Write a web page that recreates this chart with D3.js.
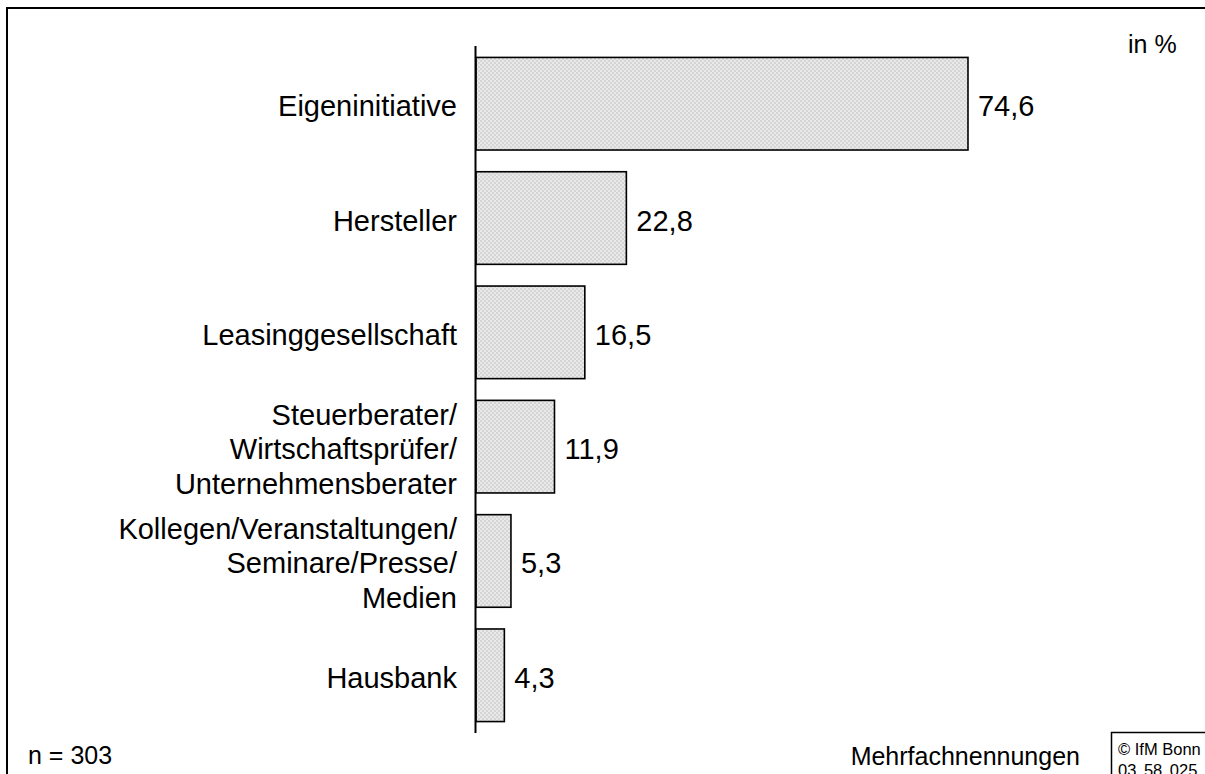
<!DOCTYPE html>
<html>
<head>
<meta charset="utf-8">
<script src="https://cdn.jsdelivr.net/npm/d3@7"></script>
<style>
  body { margin: 0; background: #fff; }
  text { font-family: Arial, "Liberation Sans", sans-serif; fill: #000; }
</style>
</head>
<body>
<div id="chart"></div>
<script>
// Data
const categories = [
    ["Eigeninitiative"],
    ["Hersteller"],
    ["Leasinggesellschaft"],
    ["Steuerberater/", "Wirtschaftsprüfer/", "Unternehmensberater"],
    ["Kollegen/Veranstaltungen/", "Seminare/Presse/", "Medien"],
    ["Hausbank"]
];
const values = [74.6, 22.8, 16.5, 11.9, 5.3, 4.3];
const valueLabels = ["74,6", "22,8", "16,5", "11,9", "5,3", "4,3"];

const width = 1205, height = 774;

const svg = d3.select("#chart")
              .append("svg")
              .attr("width", width)
              .attr("height", height);

// Checkered grey fill for the bars
const defs = svg.append("defs");
const pat = defs.append("pattern")
                .attr("id", "dots")
                .attr("width", 4)
                .attr("height", 4)
                .attr("patternUnits", "userSpaceOnUse");
pat.append("rect").attr("width", 4).attr("height", 4).attr("fill", "#e9e9e9");
pat.append("rect").attr("width", 2).attr("height", 2).attr("fill", "#d5d5d5");
pat.append("rect").attr("x", 2).attr("y", 2).attr("width", 2).attr("height", 2).attr("fill", "#d5d5d5");

// Frame
svg.append("rect")
   .attr("x", 7)
   .attr("y", 8)
   .attr("width", 1400)
   .attr("height", 1000)
   .attr("fill", "none")
   .attr("stroke", "#000")
   .attr("stroke-width", 2);

// Scales
const x = d3.scaleLinear()
            .domain([0, 100])
            .range([476, 476 + 659.5]);

const y = d3.scaleBand()
            .domain(d3.range(values.length))
            .range([46, 733])
            .paddingInner(0.19)
            .paddingOuter(0.1);

// Bars
svg.append("g")
   .selectAll("rect")
   .data(values)
   .enter()
   .append("rect")
   .attr("x", x(0))
   .attr("y", (d, i) => y(i))
   .attr("width", d => x(d) - x(0))
   .attr("height", y.bandwidth())
   .attr("fill", "url(#dots)")
   .attr("stroke", "#000")
   .attr("stroke-width", 1.6);

// Axis line
svg.append("line")
   .attr("x1", 475.5)
   .attr("x2", 475.5)
   .attr("y1", 46)
   .attr("y2", 733)
   .attr("stroke", "#000")
   .attr("stroke-width", 2);

// Category labels
const lineH = 34.5;
const labels = svg.append("g")
                  .selectAll("text")
                  .data(categories)
                  .enter()
                  .append("text")
                  .attr("text-anchor", "end")
                  .style("font-size", "29px");
labels.each(function(lines, i) {
    const cy = y(i) + y.bandwidth() / 2 + 12.5;
    const t = d3.select(this);
    lines.forEach((ln, j) => {
        t.append("tspan")
         .attr("x", 457)
         .attr("y", cy + (j - (lines.length - 1) / 2) * lineH)
         .text(ln);
    });
});

// Value labels
svg.append("g")
   .selectAll("text")
   .data(values)
   .enter()
   .append("text")
   .attr("x", d => x(d) + 10)
   .attr("y", (d, i) => y(i) + y.bandwidth() / 2 + 12.5)
   .style("font-size", "29px")
   .text((d, i) => valueLabels[i]);

// Unit
svg.append("text")
   .attr("x", 1128)
   .attr("y", 53)
   .style("font-size", "25px")
   .text("in %");

// Footer
svg.append("text")
   .attr("x", 28)
   .attr("y", 764)
   .style("font-size", "25px")
   .text("n = 303");

svg.append("text")
   .attr("x", 1080)
   .attr("y", 765)
   .attr("text-anchor", "end")
   .style("font-size", "25px")
   .text("Mehrfachnennungen");

// Copyright box
svg.append("rect")
   .attr("x", 1111.5)
   .attr("y", 732.5)
   .attr("width", 200)
   .attr("height", 100)
   .attr("fill", "#fff")
   .attr("stroke", "#000")
   .attr("stroke-width", 1.5);

svg.append("text")
   .attr("x", 1118)
   .attr("y", 755)
   .style("font-size", "16.5px")
   .text("© IfM Bonn");

svg.append("text")
   .attr("x", 1118)
   .attr("y", 776)
   .style("font-size", "16.5px")
   .style("word-spacing", "3px")
   .text("03 58 025");
</script>
</body>
</html>
